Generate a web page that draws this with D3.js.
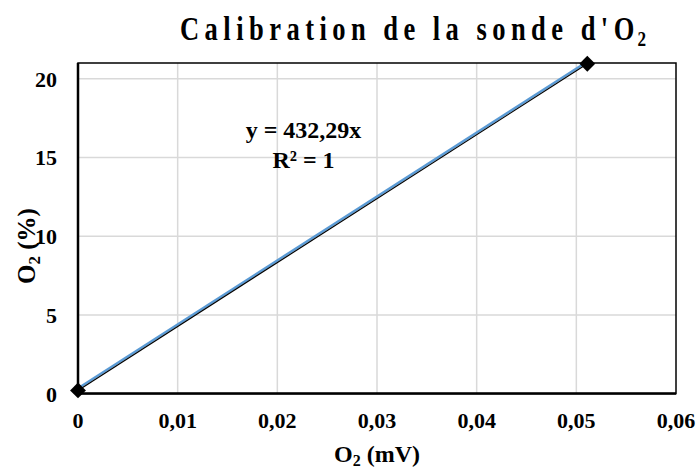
<!DOCTYPE html>
<html>
<head>
<meta charset="utf-8">
<title>Calibration</title>
<script src="https://d3js.org/d3.v7.min.js"></script>
<style>
  body { margin: 0; background: #fff; }
  text { font-family: "Liberation Serif", "Times New Roman", serif; font-weight: bold; fill: #000; }
</style>
</head>
<body>
<svg width="697" height="469"></svg>
<script>
// data
var mv = [0, 0.0511];          // O2 (mV)
var pct = [0.2, 20.95];        // O2 (%)
var xTicks = [0, 0.01, 0.02, 0.03, 0.04, 0.05, 0.06];
var yTicks = [0, 5, 10, 15, 20];
var equation = "y = 432,29x";
var r2 = "R² = 1";

var svg = d3.select("svg");
var pLeft = 78, pRight = 676, pTop = 63, pBottom = 393.6;

var x = d3.scaleLinear().domain([0, 0.06]).range([pLeft, pRight]);
var y = d3.scaleLinear().domain([0, 21]).range([pBottom, pTop]);
var fmt = function(d) { return d === 0 ? "0" : d3.format(".2f")(d).replace(".", ","); };

// grid
svg.append("g").selectAll("line").data(xTicks.slice(1, -1)).enter().append("line")
  .attr("x1", d => x(d)).attr("x2", d => x(d)).attr("y1", pTop).attr("y2", pBottom)
  .attr("stroke", "#d9d9d9").attr("stroke-width", 1.5);
svg.append("g").selectAll("line").data(yTicks.slice(1)).enter().append("line")
  .attr("x1", pLeft).attr("x2", pRight).attr("y1", d => y(d)).attr("y2", d => y(d))
  .attr("stroke", "#d9d9d9").attr("stroke-width", 1.5);

// frame
svg.append("rect").attr("x", pLeft).attr("y", pTop).attr("width", pRight - pLeft).attr("height", pBottom - pTop)
  .attr("fill", "none").attr("stroke", "#000").attr("stroke-width", 1.5);
svg.append("line").attr("x1", pLeft).attr("x2", pRight).attr("y1", pBottom).attr("y2", pBottom)
  .attr("stroke", "#000").attr("stroke-width", 2.5);
svg.append("line").attr("x1", pLeft).attr("x2", pLeft).attr("y1", pTop).attr("y2", pBottom)
  .attr("stroke", "#000").attr("stroke-width", 2.5);

// tick labels
svg.append("g").selectAll("text").data(xTicks).enter().append("text")
  .attr("x", d => x(d)).attr("y", 428).attr("text-anchor", "middle")
  .style("font-size", "22px").text(fmt);
svg.append("g").selectAll("text").data(yTicks).enter().append("text")
  .attr("x", 57).attr("y", d => y(d) + 8).attr("text-anchor", "end")
  .style("font-size", "22px").text(d => d);

// series
var pts = mv.map((d, i) => [d, pct[i]]);
var line = d3.line().x(d => x(d[0])).y(d => y(d[1]));
svg.append("path").attr("d", line(pts)).attr("fill", "none")
  .attr("stroke", "#5b9bd5").attr("stroke-width", 2.5).attr("transform", "translate(-1,-1.5)");
svg.append("path").attr("d", line(pts)).attr("fill", "none")
  .attr("stroke", "#000").attr("stroke-width", 1.2);
svg.append("g").selectAll("path").data(pts).enter().append("path")
  .attr("d", d3.symbol().type(d3.symbolDiamond2).size(160))
  .attr("transform", d => "translate(" + x(d[0]) + "," + y(d[1]) + ")")
  .attr("fill", "#000");

// equation
svg.append("text").attr("x", 303.5).attr("y", 138).attr("text-anchor", "middle")
  .style("font-size", "24px").text(equation);
svg.append("text").attr("x", 303.5).attr("y", 168).attr("text-anchor", "middle")
  .style("font-size", "24px").text(r2);

// title
var t = svg.append("text").attr("transform", "translate(180,40) scale(0.78,1)")
  .style("font-size", "34px").style("letter-spacing", "7px");
t.append("tspan").text("Calibration de la sonde d'O");
t.append("tspan").attr("dy", 6).style("font-size", "22px").attr("dx", -3).text("2");

// axis titles
var xt = svg.append("text").attr("x", x(0.03)).attr("y", 462).attr("text-anchor", "middle").style("font-size", "24px");
xt.append("tspan").text("O");
xt.append("tspan").attr("dy", 4).style("font-size", "16px").text("2");
xt.append("tspan").attr("dy", -4).text(" (mV)");

var yt = svg.append("text").attr("transform", "translate(35,246) rotate(-90)").attr("text-anchor", "middle").style("font-size", "25px");
yt.append("tspan").text("O");
yt.append("tspan").attr("dy", 5).style("font-size", "17px").text("2");
yt.append("tspan").attr("dy", -5).text(" (%)");
</script>
</body>
</html>
